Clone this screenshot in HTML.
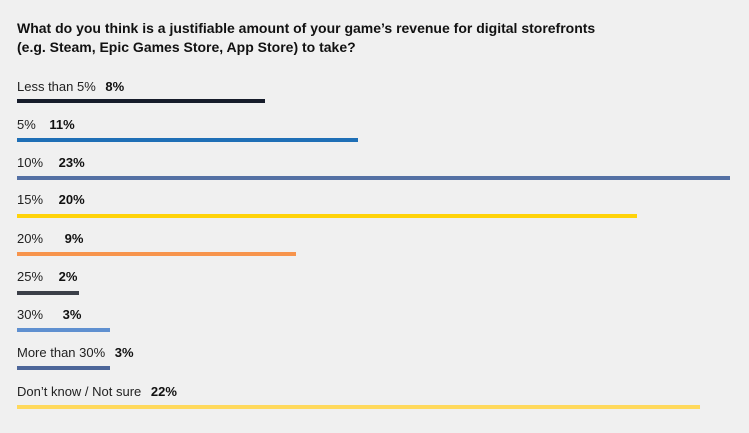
<!DOCTYPE html>
<html><head><meta charset="utf-8"><style>
body{margin:0;width:749px;height:433px;background:#f0f0f0;font-family:"Liberation Sans",sans-serif;position:relative;overflow:hidden}
.t{position:absolute;left:17px;top:19px;font-size:14px;font-weight:bold;color:#111;line-height:19px}
.l{position:absolute;left:17px;font-size:13px;color:#222;white-space:nowrap}
.l b{color:#111;margin-left:6px}
.b{position:absolute;left:17px;height:4px}
</style></head><body>
<div class="t">What do you think is a justifiable amount of your game’s revenue for digital storefronts<br>(e.g. Steam, Epic Games Store, App Store) to take?</div>
<div class="l" style="top:79px">Less than 5% <b>8%</b></div>
<div class="b" style="top:99px;width:248px;background:#161c2a"></div>
<div class="l" style="top:117px">5% <b style="margin-left:10px">11%</b></div>
<div class="b" style="top:138px;width:341px;background:#1f6fb6"></div>
<div class="l" style="top:155px">10% <b style="margin-left:12px">23%</b></div>
<div class="b" style="top:176px;width:713px;background:#5470a4"></div>
<div class="l" style="top:192px">15% <b style="margin-left:12px">20%</b></div>
<div class="b" style="top:214px;width:620px;background:#ffd30a"></div>
<div class="l" style="top:231px">20% <b style="margin-left:18px">9%</b></div>
<div class="b" style="top:252px;width:279px;background:#f7944c"></div>
<div class="l" style="top:269px">25% <b style="margin-left:12px">2%</b></div>
<div class="b" style="top:291px;width:62px;background:#3b3f48"></div>
<div class="l" style="top:307px">30% <b style="margin-left:16px">3%</b></div>
<div class="b" style="top:328px;width:93px;background:#5f90d0"></div>
<div class="l" style="top:345px">More than 30% <b>3%</b></div>
<div class="b" style="top:366px;width:93px;background:#4d6699"></div>
<div class="l" style="top:384px">Don’t know / Not sure <b>22%</b></div>
<div class="b" style="top:405px;width:683px;background:#ffd95c"></div>
</body></html>
